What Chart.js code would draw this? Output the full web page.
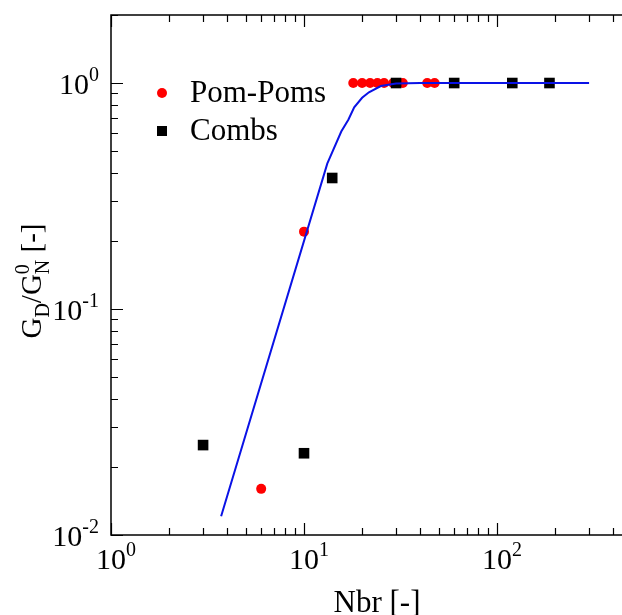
<!DOCTYPE html>
<html>
<head>
<meta charset="utf-8">
<script src="https://cdn.jsdelivr.net/npm/chart.js@4.4.1/dist/chart.umd.min.js"></script>
<style>
  html, body { margin: 0; padding: 0; background: #fff; overflow: hidden; width: 622px; height: 615px; }
  canvas { display: block; }
</style>
</head>
<body>
<canvas id="gdChart" width="700" height="615"></canvas>
<script>
// Pom-Pom samples
const pomNbr = [6, 10, 18, 20, 22, 24, 26, 29, 32.5, 43.5, 47.5];
const pomGd  = [0.016, 0.22, 1, 1, 1, 1, 1, 1, 1, 1, 1];

// Comb samples
const combNbr = [3, 10, 14, 30, 60, 120, 187];
const combGd  = [0.025, 0.023, 0.38, 1, 1, 1, 1];

// model curve
const fitNbr = [3.72, 13.2, 15.6, 17, 18.2, 20, 21.7, 25, 30, 40, 300];
const fitGd  = [0.0121, 0.44, 0.61, 0.69, 0.78, 0.86, 0.91, 0.97, 0.995, 1, 1];

// decade ticks and their exponent labels
const xDecades = [1, 10, 100, 1000];
const xExpLabels = ['0', '1', '2', '3'];
const yDecades = [0.01, 0.1, 1];
const yExpLabels = ['-2', '-1', '0'];

const SERIF = '"Liberation Serif", "Times New Roman", serif';

function toPoints(xs, ys) {
  return xs.map((x, i) => ({ x: x, y: ys[i] }));
}

// 1..9 steps inside every decade
function logTicks(decades, max) {
  const out = [];
  decades.forEach(d => {
    for (let k = 1; k <= 9; k++) {
      const v = d * k;
      if (v <= max * 1.0001) out.push({ value: v, major: k === 1 });
    }
  });
  return out;
}

// "10" with a raised exponent
function drawPow(ctx, exp, x, y, align) {
  ctx.save();
  ctx.fillStyle = '#000';
  ctx.textBaseline = 'alphabetic';
  ctx.font = '30px ' + SERIF;
  const wBase = ctx.measureText('10').width;
  ctx.font = '20px ' + SERIF;
  const wExp = ctx.measureText(exp).width;
  let left = x;
  if (align === 'center') left = x - wBase / 2;
  if (align === 'right') left = x - wBase - wExp;
  ctx.textAlign = 'left';
  ctx.font = '30px ' + SERIF;
  ctx.fillText('10', left, y);
  ctx.font = '20px ' + SERIF;
  ctx.fillText(exp, left + wBase, y - 13);
  ctx.restore();
}

const framePlugin = {
  id: 'frame',
  afterDraw(chart) {
    const { ctx, chartArea: a, scales } = chart;
    const xs = scales.x, ys = scales.y;
    ctx.save();
    ctx.strokeStyle = '#000';
    ctx.lineWidth = 1.5;
    ctx.strokeRect(a.left, a.top, a.right - a.left, a.bottom - a.top);

    ctx.lineWidth = 1.2;
    ctx.beginPath();
    xs.ticks.forEach(t => {
      const px = Math.round(xs.getPixelForValue(t.value)) + 0.5;
      const len = t.major ? 12 : 7;
      ctx.moveTo(px, a.bottom); ctx.lineTo(px, a.bottom - len);
      ctx.moveTo(px, a.top); ctx.lineTo(px, a.top + len);
    });
    ys.ticks.forEach(t => {
      const py = Math.round(ys.getPixelForValue(t.value)) + 0.5;
      const len = t.major ? 12 : 7;
      ctx.moveTo(a.left, py); ctx.lineTo(a.left + len, py);
      ctx.moveTo(a.right, py); ctx.lineTo(a.right - len, py);
    });
    ctx.stroke();

    // tick labels
    xDecades.forEach((v, i) => {
      drawPow(ctx, xExpLabels[i], xs.getPixelForValue(v), a.bottom + 34, 'center');
    });
    yDecades.forEach((v, i) => {
      drawPow(ctx, yExpLabels[i], a.left - 12, ys.getPixelForValue(v) + 11, 'right');
    });

    // x title
    ctx.fillStyle = '#000';
    ctx.font = '31px ' + SERIF;
    ctx.textAlign = 'center';
    ctx.textBaseline = 'alphabetic';
    ctx.fillText(xs.options.title.text, 377, 612);

    // y title: G_D / G_N^0 [-]
    ctx.save();
    ctx.translate(41, 281);
    ctx.rotate(-Math.PI / 2);
    const big = '29px ' + SERIF, small = '20px ' + SERIF;
    const parts = [
      { t: 'G', f: big, dy: 0 },
      { t: 'D', f: small, dy: 8 },
      { t: '/G', f: big, dy: 0 },
      { t: 'N', f: small, dy: 8, stack: '0' },
      { t: ' [-]', f: big, dy: 0 }
    ];
    let total = 0;
    parts.forEach(p => { ctx.font = p.f; p.w = ctx.measureText(p.t).width; total += p.w; });
    let cx = -total / 2;
    ctx.textAlign = 'left';
    parts.forEach(p => {
      ctx.font = p.f;
      ctx.fillText(p.t, cx, p.dy);
      if (p.stack) ctx.fillText(p.stack, cx, -12);
      cx += p.w;
    });
    ctx.restore();

    // legend inside the plot
    const items = chart.data.datasets.filter(d => d.inLegend);
    items.forEach((d, i) => {
      const cy = 93 + i * 38;
      ctx.fillStyle = d.backgroundColor;
      if (d.pointStyle === 'rect') {
        ctx.fillRect(157, cy - 5, 10, 10);
      } else {
        ctx.beginPath();
        ctx.arc(162, cy, 5, 0, Math.PI * 2);
        ctx.fill();
      }
      ctx.fillStyle = '#000';
      ctx.font = '31px ' + SERIF;
      ctx.textAlign = 'left';
      ctx.fillText(d.label, 190, cy + 9);
    });
    ctx.restore();
  }
};

const ctx = document.getElementById('gdChart').getContext('2d');
const gdChart = new Chart(ctx, {
  type: 'scatter',
  data: {
    datasets: [
      {
        label: 'model',
        data: toPoints(fitNbr, fitGd),
        showLine: true,
        borderColor: '#0a12e6',
        borderWidth: 2,
        pointRadius: 0,
        tension: 0,
        order: 0
      },
      {
        label: 'Pom-Poms',
        data: toPoints(pomNbr, pomGd),
        pointStyle: 'circle',
        pointRadius: 5,
        backgroundColor: '#ff0000',
        borderWidth: 0,
        order: 2,
        inLegend: true
      },
      {
        label: 'Combs',
        data: toPoints(combNbr, combGd),
        pointStyle: 'rect',
        pointRadius: 7.5,
        backgroundColor: '#000000',
        borderWidth: 0,
        order: 1,
        inLegend: true
      }
    ]
  },
  options: {
    responsive: false,
    animation: false,
    layout: { padding: { top: 15, right: 10, left: 0, bottom: 0 } },
    plugins: {
      legend: { display: false },
      tooltip: { enabled: false }
    },
    scales: {
      x: {
        type: 'logarithmic',
        min: 1,
        max: 1000,
        title: { display: false, text: 'Nbr [-]' },
        grid: { display: false },
        border: { display: false },
        ticks: { display: false },
        afterBuildTicks: s => { s.ticks = logTicks(xDecades, 1000); },
        afterFit: s => { s.height = 80; }
      },
      y: {
        type: 'logarithmic',
        min: 0.01,
        max: 2,
        grid: { display: false },
        border: { display: false },
        ticks: { display: false },
        afterBuildTicks: s => { s.ticks = logTicks(yDecades, 2); },
        afterFit: s => { s.width = 111; }
      }
    }
  },
  plugins: [framePlugin]
});
</script>
</body>
</html>
